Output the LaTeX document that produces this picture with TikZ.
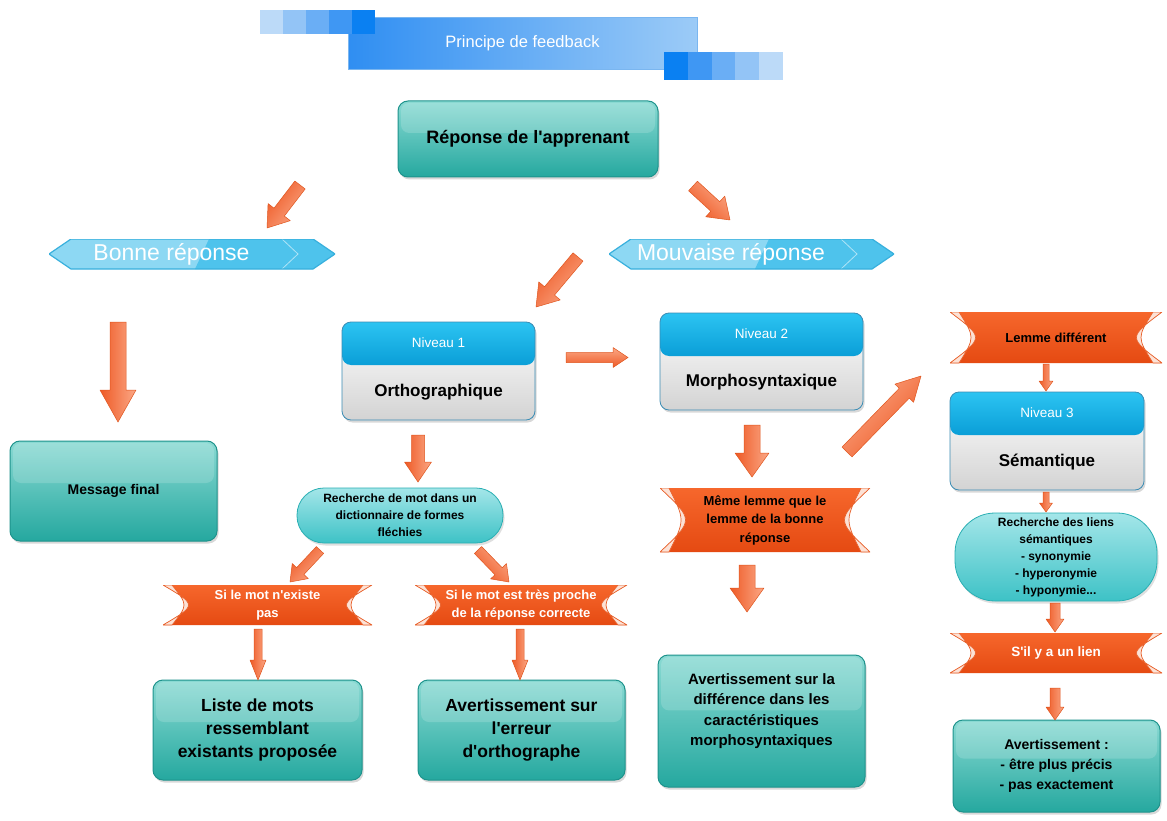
\documentclass[tikz,border=0pt]{standalone}
\usepackage{fontspec}
\setmainfont{Liberation Sans}[Ligatures=TeXOff]
\usetikzlibrary{calc,shadows}

% palette
\definecolor{tealedge}{HTML}{1E938C}
\definecolor{tealtop}{HTML}{8ADAD3}
\definecolor{tealbot}{HTML}{25A89F}
\definecolor{cyantop}{HTML}{A4E6E9}
\definecolor{cyanbot}{HTML}{3DC2C6}
\definecolor{cyanedge}{HTML}{2AAFB3}
\definecolor{hdrtop}{HTML}{2CC4F2}
\definecolor{hdrbot}{HTML}{0A9ED7}
\definecolor{lvledge}{HTML}{3A8CB4}
\definecolor{lowgray}{HTML}{D3D3D3}
\definecolor{chevl}{HTML}{8DD8F3}
\definecolor{chevr}{HTML}{4EC3EC}
\definecolor{chevedge}{HTML}{38B0DD}
\definecolor{ribtop}{HTML}{F6672C}
\definecolor{ribbot}{HTML}{E54A12}
\definecolor{ribear}{HTML}{FCE2D6}
\definecolor{ribline}{HTML}{E8602A}
\definecolor{arrlight}{HTML}{FBA886}
\definecolor{arrdark}{HTML}{EE5A26}
\definecolor{arredge}{HTML}{E0561F}
\definecolor{ttlleft}{HTML}{2F8EF2}
\definecolor{ttlright}{HTML}{9CCBF7}
\definecolor{ttledge}{HTML}{7AB6F0}
\definecolor{sqa}{HTML}{BCDAF8}
\definecolor{sqb}{HTML}{93C4F6}
\definecolor{sqc}{HTML}{6AAEF5}
\definecolor{sqd}{HTML}{3F97F3}
\definecolor{sqe}{HTML}{0A80F2}

\tikzset{
  titlebar/.style={minimum width=349pt, minimum height=52pt, inner sep=0pt,
    left color=ttlleft, right color=ttlright, draw=ttledge, line width=.6pt,
    text=white, font=\fontsize{16.5}{20}\selectfont},
  tealbox/.style={draw=tealedge, line width=1pt, rounded corners=10pt,
    top color=tealtop, bottom color=tealbot,
    drop shadow={opacity=.3, shadow xshift=1.5pt, shadow yshift=-2.5pt},
    align=center, inner sep=0pt,
    path picture={\fill[white, opacity=.16, rounded corners=8pt]
      ([xshift=3pt,yshift=-2pt]path picture bounding box.north west) rectangle
      ($(path picture bounding box.north east)!.42!(path picture bounding box.south east)+(-3pt,0)$);}},
  boxtext/.style={align=center, inner sep=0pt},
  stadium/.style={draw=cyanedge, line width=.8pt, top color=cyantop, bottom color=cyanbot,
    rounded corners=#1, drop shadow={opacity=.25, shadow xshift=1.5pt, shadow yshift=-2.5pt},
    align=center, inner sep=0pt, font=\bfseries\fontsize{12}{17}\selectfont},
  level/.style={draw=lvledge, line width=.8pt, rounded corners=9pt, fill=white,
    drop shadow={opacity=.3, shadow xshift=1.5pt, shadow yshift=-2.5pt}, inner sep=0pt,
    path picture={
      \shade[top color=white, bottom color=lowgray]
        (path picture bounding box.south west) rectangle (path picture bounding box.north east);
      \shade[top color=hdrtop, bottom color=hdrbot]
        (path picture bounding box.north west) rectangle ([yshift=-43pt]path picture bounding box.north east);}},
  hdrtxt/.style={text=white, inner sep=0pt, font=\fontsize{13.5}{16}\selectfont},
  lvltxt/.style={inner sep=0pt, font=\bfseries\fontsize{17}{20}\selectfont},
  chevron/.style={fill=white, inner sep=0pt,
    path picture={
      \fill[chevl] (path picture bounding box.west) -- ([xshift=22pt]path picture bounding box.north west)
        -- ([xshift=-22pt]path picture bounding box.north east) -- (path picture bounding box.east)
        -- ([xshift=-22pt]path picture bounding box.south east) -- ([xshift=22pt]path picture bounding box.south west) -- cycle;
      \fill[chevr] ([xshift=160pt]path picture bounding box.north west)
        -- ([xshift=-22pt]path picture bounding box.north east) -- (path picture bounding box.east)
        -- ([xshift=-22pt]path picture bounding box.south east) -- ([xshift=146pt]path picture bounding box.south west) -- cycle;
      \draw[white, opacity=.55, line width=.8pt] ([xshift=-53pt]path picture bounding box.north east)
        -- ([xshift=-37pt]path picture bounding box.east) -- ([xshift=-53pt]path picture bounding box.south east);
      \draw[chevedge, line width=1.2pt] (path picture bounding box.west) -- ([xshift=22pt]path picture bounding box.north west)
        -- ([xshift=-22pt]path picture bounding box.north east) -- (path picture bounding box.east)
        -- ([xshift=-22pt]path picture bounding box.south east) -- ([xshift=22pt]path picture bounding box.south west) -- cycle;}},
  chevtxt/.style={text=white, inner sep=0pt, font=\fontsize{23}{26}\selectfont},
  ribbon/.style={fill=white, inner sep=0pt, align=center, font=\bfseries\fontsize{13}{18.5}\selectfont,
    path picture={
      % orange body with concave ends
      \shade[top color=ribtop, bottom color=ribbot] (path picture bounding box.north west)
        .. controls ([xshift=34pt]path picture bounding box.west) .. (path picture bounding box.south west)
        -- (path picture bounding box.south east)
        .. controls ([xshift=-34pt]path picture bounding box.east) .. (path picture bounding box.north east) -- cycle;
      % light curled ends
      \filldraw[fill=ribear, draw=ribline, line width=.7pt] (path picture bounding box.north west)
        .. controls ([xshift=34pt]path picture bounding box.west) .. (path picture bounding box.south west)
        -- ([xshift=9pt]path picture bounding box.south west)
        .. controls ([xshift=25pt]path picture bounding box.west) .. ([xshift=9pt]path picture bounding box.north west) -- cycle;
      \filldraw[fill=ribear, draw=ribline, line width=.7pt] (path picture bounding box.north east)
        .. controls ([xshift=-34pt]path picture bounding box.east) .. (path picture bounding box.south east)
        -- ([xshift=-9pt]path picture bounding box.south east)
        .. controls ([xshift=-25pt]path picture bounding box.east) .. ([xshift=-9pt]path picture bounding box.north east) -- cycle;}},
}

% block arrow: tail, tip, shaft half width, head half width, head length
\newcommand\barrow[5]{%
  \path let \p1=($(#2)-(#1)$), \n1={atan2(\y1,\x1)} in \pgfextra{\xdef\barang{\n1}};
  \coordinate (bh) at ($(#2)!#5pt!(#1)$);
  \shade[top color=arrlight, bottom color=arrdark, shading angle=\barang,
         draw=arredge, line width=.5pt, line join=round]
    ($(#1)!#3pt!90:(#2)$) -- ($(bh)!#3pt!-90:(#1)$) -- ($(bh)!#4pt!-90:(#1)$) -- (#2)
    -- ($(bh)!#4pt!90:(#1)$) -- ($(bh)!#3pt!90:(#1)$) -- ($(#1)!#3pt!-90:(#2)$) -- cycle;
}

\begin{document}
\begin{tikzpicture}[x=1pt,y=-1pt]
\fill[white] (0,0) rectangle (1167,821);
\useasboundingbox (0,0) rectangle (1167,821);

% title banner with its stepped squares
\node[titlebar] (ttl) at (522.5,43.5) {Principe de feedback};
\foreach \c [count=\i from 0] in {sqa,sqb,sqc,sqd,sqe}
  \fill[\c] (260+23*\i,10) rectangle ++(23,24);
\foreach \c [count=\i from 0] in {sqe,sqd,sqc,sqb,sqa}
  \fill[\c] (664+23.8*\i,52) rectangle ++(23.8,28);

% learner answer
\node[tealbox, minimum width=260pt, minimum height=76pt, font=\bfseries\fontsize{18}{22}\selectfont]
  (resp) at (528,139) {Réponse de l'apprenant};

% good / wrong answer banners
\node[chevron, minimum width=286pt, minimum height=30pt] (bonne) at (192,254) {};
\node[chevtxt] (bonnet) at (171.5,254) {Bonne réponse};
\node[chevron, minimum width=285pt, minimum height=30pt] (mouv) at (751.5,254) {};
\node[chevtxt] (mouvt) at (731,254) {Mouvaise réponse};

% final message
\node[tealbox, minimum width=207pt, minimum height=100pt, font=\bfseries\fontsize{14}{18}\selectfont]
  (msg) at (113.5,491) {Message final};

% level 1
\node[level, minimum width=193pt, minimum height=98pt] (niv1) at (438.5,371) {};
\node[hdrtxt] (niv1h) at ([yshift=-21.5pt]niv1.north) {Niveau 1};
\node[lvltxt] (niv1b) at ([yshift=-70.5pt]niv1.north) {Orthographique};

% level 2
\node[level, minimum width=203pt, minimum height=97pt] (niv2) at (761.5,361.5) {};
\node[hdrtxt] (niv2h) at ([yshift=-21.5pt]niv2.north) {Niveau 2};
\node[lvltxt] (niv2b) at ([yshift=-70pt]niv2.north) {Morphosyntaxique};

% level 3
\node[level, minimum width=194pt, minimum height=98pt] (niv3) at (1047,441) {};
\node[hdrtxt] (niv3h) at ([yshift=-21.5pt]niv3.north) {Niveau 3};
\node[lvltxt] (niv3b) at ([yshift=-70.5pt]niv3.north) {Sémantique};

% spelling branch
\node[stadium=27pt, minimum width=206pt, minimum height=55pt] (rech) at (400,515.5)
  {Recherche de mot dans un\\dictionnaire de formes\\fléchies};
\node[ribbon, text=white, minimum width=209pt, minimum height=40pt] (si1) at (267.5,605)
  {Si le mot n'existe\\pas};
\node[ribbon, text=white, minimum width=212pt, minimum height=40pt] (si2) at (521,605)
  {Si le mot est très proche\\de la réponse correcte};
\node[tealbox, minimum width=209pt, minimum height=100pt, font=\bfseries\fontsize{17.5}{23}\selectfont]
  (liste) at (257.5,730) {Liste de mots\\ressemblant\\existants proposée};
\node[tealbox, minimum width=207pt, minimum height=100pt, font=\bfseries\fontsize{17.5}{23}\selectfont]
  (averr) at (521.5,730) {Avertissement sur\\l'erreur\\d'orthographe};

% morphosyntax branch
\node[ribbon, minimum width=210pt, minimum height=64pt] (meme) at (765,520)
  {Même lemme que le\\lemme de la bonne\\réponse};
\node[tealbox, minimum width=207pt, minimum height=132pt] (avm) at (761.5,721) {};
\node[boxtext, font=\bfseries\fontsize{15}{20.5}\selectfont] (avmt) at (761.5,711)
  {Avertissement sur la\\différence dans les\\caractéristiques\\morphosyntaxiques};

% semantic branch
\node[ribbon, minimum width=212pt, minimum height=51pt] (lemme) at (1056,337.5) {Lemme différent};
\node[stadium=40pt, minimum width=202pt, minimum height=88pt] (liens) at (1056,557)
  {Recherche des liens\\sémantiques\\- synonymie\\- hyperonymie\\- hyponymie...};
\node[ribbon, text=white, font=\bfseries\fontsize{13.5}{18}\selectfont, minimum width=212pt, minimum height=40pt]
  (sil) at (1056,653) {S'il y a un lien};
\node[tealbox, minimum width=207pt, minimum height=92pt, font=\bfseries\fontsize{14}{20}\selectfont]
  (avsem) at (1056.5,766) {Avertissement :\\- être plus précis\\- pas exactement};

% arrow end points
\coordinate (a1s) at (300,185);   \coordinate (a1e) at (267,228);
\coordinate (a2s) at (693,186);   \coordinate (a2e) at (730,220);
\coordinate (a3s) at (578,257);   \coordinate (a3e) at (536,307);
\coordinate (a4s) at (118,322);   \coordinate (a4e) at (118,422);
\coordinate (a5s) at (566,357.5); \coordinate (a5e) at (628,357.5);
\coordinate (a6s) at (418,435);   \coordinate (a6e) at (418,482);
\coordinate (a7s) at (320,550);   \coordinate (a7e) at (290,582);
\coordinate (a8s) at (478,550);   \coordinate (a8e) at (509,582);
\coordinate (a9s) at (258,629);   \coordinate (a9e) at (258,680);
\coordinate (a10s) at (520,629);  \coordinate (a10e) at (520,680);
\coordinate (a11s) at (752,425);  \coordinate (a11e) at (752,477);
\coordinate (a12s) at (747,565);  \coordinate (a12e) at (747,612);
\coordinate (a13s) at (847,452);  \coordinate (a13e) at (921,376);
\coordinate (a14s) at (1046,364); \coordinate (a14e) at (1046,391);
\coordinate (a15s) at (1046,492); \coordinate (a15e) at (1046,512);
\coordinate (a16s) at (1055,603); \coordinate (a16e) at (1055,632);
\coordinate (a17s) at (1055,688); \coordinate (a17e) at (1055,720);

% block arrows
\barrow{a1s}{a1e}{6.5}{14}{20}
\barrow{a2s}{a2e}{6.5}{14}{20}
\barrow{a3s}{a3e}{6.5}{14}{21}
\barrow{a4s}{a4e}{8}{18}{32}
\barrow{a5s}{a5e}{5}{10}{15}
\barrow{a6s}{a6e}{6.5}{13.5}{20}
\barrow{a7s}{a7e}{5}{11}{15}
\barrow{a8s}{a8e}{5}{11}{15}
\barrow{a9s}{a9e}{4}{8}{20}
\barrow{a10s}{a10e}{4}{8}{20}
\barrow{a11s}{a11e}{8}{17}{24}
\barrow{a12s}{a12e}{8}{17}{24}
\barrow{a13s}{a13e}{7}{13}{24}
\barrow{a14s}{a14e}{3}{7}{10}
\barrow{a15s}{a15e}{3}{6.5}{9}
\barrow{a16s}{a16e}{5}{9}{13}
\barrow{a17s}{a17e}{5}{9}{13}
\end{tikzpicture}
\end{document}
